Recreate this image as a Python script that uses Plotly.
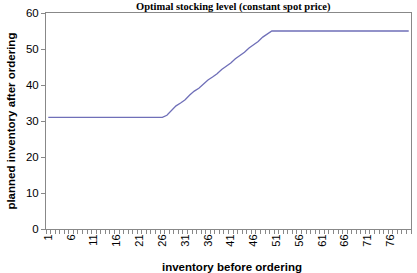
import plotly.graph_objects as go

inventory = list(range(1, 81))
flat_low = [31.0] * 26  # inventory 1..26
ramp = [31.6, 32.8, 34.2, 35.0, 35.9, 37.2, 38.3, 39.1, 40.2, 41.4, 42.2, 43.1,
        44.3, 45.2, 46.1, 47.3, 48.2, 49.1, 50.3, 51.2, 52.1, 53.3, 54.2, 55.0]  # 27..50
flat_high = [55.0] * 30  # 51..80
planned = flat_low + ramp + flat_high

tick_vals = list(range(1, 80, 5))
tick_text = [str(v) for v in tick_vals]

fig = go.Figure()
fig.add_trace(go.Scatter(x=inventory, y=planned, mode="lines",
                         line=dict(color="#6f6fb8", width=1.3), showlegend=False))

fig.update_layout(
    width=417, height=273,
    margin=dict(l=46, r=6, t=13, b=44),
    paper_bgcolor="white", plot_bgcolor="white",
    font=dict(family="Arial, Liberation Sans, sans-serif", color="black", size=10),
    annotations=[
        dict(text="<b>Optimal stocking level (constant spot price)</b>", xref="paper", yref="paper",
             x=0.514, y=1.03, xanchor="center", yanchor="middle", showarrow=False,
             font=dict(family="Liberation Serif, Times New Roman, serif", size=10.5)),
        dict(text="<b>inventory before ordering</b>", xref="paper", yref="paper",
             x=0.51, y=-0.175, xanchor="center", yanchor="middle", showarrow=False,
             font=dict(size=11.5)),
        dict(text="<b>planned inventory after ordering</b>", xref="paper", yref="paper",
             x=-0.097, y=0.5, xanchor="center", yanchor="middle", showarrow=False,
             textangle=-90, font=dict(size=11.5)),
    ],
)
fig.update_xaxes(
    range=[0.5, 80.5], tickmode="array", tickvals=tick_vals, ticktext=tick_text,
    tickangle=-90, ticks="", showgrid=False, zeroline=False,
    showline=True, linecolor="#888888", linewidth=1, mirror=True,
    minor=dict(ticks="outside", tick0=0.5, dtick=1, ticklen=4, tickcolor="#888888", showgrid=False),
    tickfont=dict(size=11),
)
fig.update_yaxes(
    range=[0, 60], tickmode="linear", tick0=0, dtick=10,
    ticks="outside", ticklen=4, tickcolor="#888888", showgrid=False, zeroline=False,
    showline=True, linecolor="#888888", linewidth=1, mirror=True,
    tickfont=dict(size=11.5),
)
fig.write_html("out.html")
